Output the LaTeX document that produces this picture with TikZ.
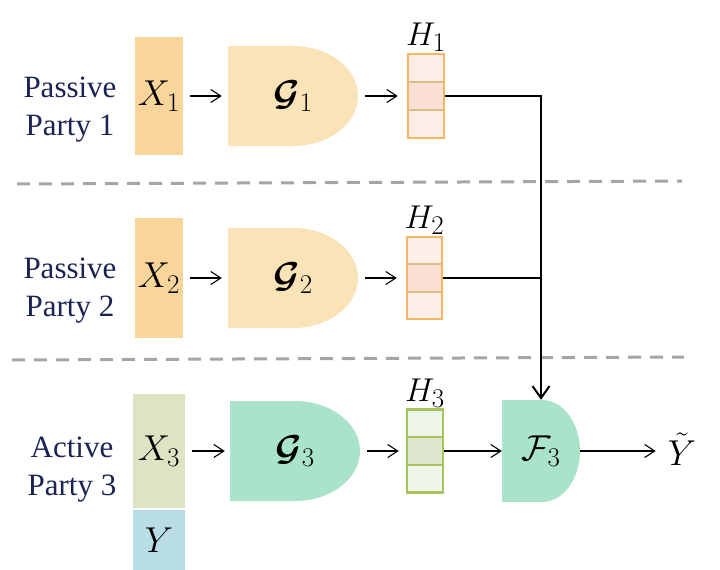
\RequirePackage{fix-cm}
\documentclass[tikz,border=0pt]{standalone}
\usepackage{bm}
\usepackage[no-math]{fontspec}
\setmainfont{Liberation Serif}
\usetikzlibrary{arrows.meta}
\definecolor{navy}{HTML}{1B2352}
\definecolor{xorange}{HTML}{F9D59C}
\definecolor{gorange}{HTML}{FBE3B8}
\definecolor{xgreen}{HTML}{DFE2C3}
\definecolor{yblue}{HTML}{B9DDE6}
\definecolor{mint}{HTML}{A9E3C9}
\definecolor{hborder}{HTML}{F6B664}
\definecolor{hlight}{HTML}{FDEEE8}
\definecolor{hmid}{HTML}{FBE1D3}
\definecolor{hdiv}{HTML}{D8C089}
\definecolor{gborder}{HTML}{A9C35C}
\definecolor{glight}{HTML}{EEF5EA}
\definecolor{gmid}{HTML}{DDE6CF}
\definecolor{dashgrey}{HTML}{A5A5A5}
\newcommand{\mfont}{\fontsize{36}{40}\selectfont}
\newcommand{\hfont}{\fontsize{33}{38}\selectfont}
\newcommand{\bigsub}[1]{_{\mbox{\fontsize{27}{30}\selectfont$#1$}}}
% D-shaped block: name, xl, xr, cy, half height, straight length, fill, text
\newcommand{\dblock}[8]{%
  \fill[#7] (#2,{#4-#5}) -- ({#2+#6},{#4-#5})
    .. controls ({#2+#6+0.5523*(#3-#2-#6)},{#4-#5}) and (#3,{#4-0.5523*#5}) .. (#3,#4)
    .. controls (#3,{#4+0.5523*#5}) and ({#2+#6+0.5523*(#3-#2-#6)},{#4+#5}) .. ({#2+#6},{#4+#5})
    -- (#2,{#4+#5}) -- cycle;
  \node[inner sep=0pt, minimum width={(#3-#2)*1pt}, minimum height={2*#5*1pt}, font=\mfont]
    (#1) at ({(#2+#3)/2},#4) {$#8$};}
% vector block: name, cx, cy, w, h, border, light, mid, divider
\newcommand{\hvec}[9]{%
  \fill[#7] ({#2-#4/2},{#3-#5/2}) rectangle ({#2+#4/2},{#3+#5/2});
  \fill[#8] ({#2-#4/2},{#3-#5/6}) rectangle ({#2+#4/2},{#3+#5/6});
  \draw[#9, line width=2pt] ({#2-#4/2},{#3-#5/6}) -- ({#2+#4/2},{#3-#5/6})
    ({#2-#4/2},{#3+#5/6}) -- ({#2+#4/2},{#3+#5/6});
  \node[draw=#6, line width=2.5pt, inner sep=0pt, minimum width={#4*1pt}, minimum height={#5*1pt}]
    (#1) at (#2,#3) {};}
\tikzset{
  party/.style={font=\fontsize{31}{38}\selectfont, text=navy, align=center},
  xbox/.style={inner sep=0pt, font=\mfont},
  thin arrow/.style={line width=1.1pt, -{Straight Barb[length=10pt,width=13pt,line width=1.1pt]}},
  thick line/.style={line width=2pt},
  sep line/.style={dashgrey, line width=3pt, dash pattern=on 13pt off 9pt},
  hlabel/.style={font=\hfont, anchor=south, inner sep=1pt}
}
\begin{document}
\begin{tikzpicture}[x=1pt,y=-1pt]
\useasboundingbox (0,0) rectangle (720,570);

% separators
\draw[sep line] (17,184) -- (682,181);
\draw[sep line] (12,360) -- (684,357);

% party labels
\node[party] (p1) at (70,110) {Passive\\Party 1};
\node[party] (p2) at (70,291) {Passive\\Party 2};
\node[party] (p3) at (72,470) {Active\\Party 3};

% inputs
\node[xbox, fill=xorange, minimum width=48pt, minimum height=118pt] (x1) at (159,96) {$X\bigsub{1}$};
\node[xbox, fill=xorange, minimum width=48pt, minimum height=120pt] (x2) at (159,278) {$X\bigsub{2}$};
\node[xbox, fill=xgreen, minimum width=52pt, minimum height=114pt] (x3) at (159,451) {$X\bigsub{3}$};
\node[xbox, fill=yblue, minimum width=52pt, minimum height=60pt] (y) at (159,540) {$Y$};

% bottom models
\dblock{g1}{228}{358}{96}{50}{65}{gorange}{\bm{\mathcal{G}}\bigsub{1}}
\dblock{g2}{228}{358}{278}{50}{65}{gorange}{\bm{\mathcal{G}}\bigsub{2}}
\dblock{g3}{230}{360}{451}{50}{65}{mint}{\bm{\mathcal{G}}\bigsub{3}}
\dblock{f3}{502}{580}{451}{51}{40}{mint}{\mathcal{F}\bigsub{3}}

% embeddings
\hvec{h1}{426}{96}{36}{84}{hborder}{hlight}{hmid}{hdiv}
\hvec{h2}{424.5}{278}{35}{82}{hborder}{hlight}{hmid}{hdiv}
\hvec{h3}{425}{451}{36}{83}{gborder}{glight}{gmid}{gborder}
\node[hlabel] (lh1) at (h1.north) {$H\bigsub{1}$};
\node[hlabel] (lh2) at (h2.north) {$H\bigsub{2}$};
\node[hlabel] (lh3) at (h3.north) {$H\bigsub{3}$};

% output
\node[font=\mfont, inner sep=2pt] (yt) at (682,449) {$\tilde{Y}$};

% connectors
\draw[thin arrow, shorten <=7pt, shorten >=6pt] (x1) -- (g1);
\draw[thin arrow, shorten <=7pt, shorten >=6pt] (x2) -- (g2);
\draw[thin arrow, shorten <=7pt, shorten >=5pt] (x3) -- (g3);
\draw[thin arrow, shorten <=7pt, shorten >=9pt] (g1) -- (h1);
\draw[thin arrow, shorten <=7pt, shorten >=9pt] (g2) -- (h2);
\draw[thin arrow, shorten <=7pt, shorten >=7pt] (g3) -- (h3);
\draw[thin arrow] (h3) -- (f3);
\draw[thin arrow, shorten >=10pt] (f3.east) -- (f3.east -| yt.west);
\draw[thick line, -{Straight Barb[length=12pt,width=17pt,line width=2pt]}] (h1.east) -| (f3.north);
\draw[thick line] (h2.east) -- (h2.east -| f3.north);
\end{tikzpicture}
\end{document}
